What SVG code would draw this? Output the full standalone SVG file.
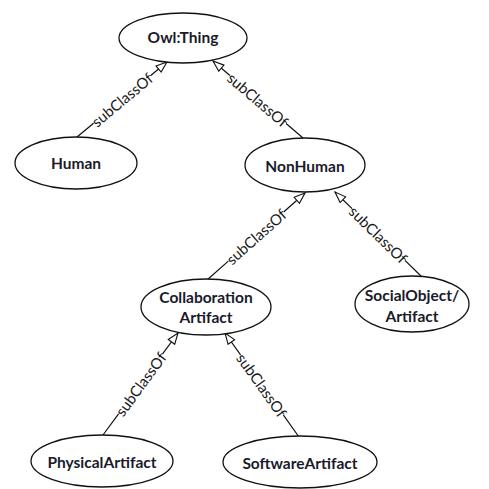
<svg xmlns="http://www.w3.org/2000/svg" width="489" height="489" viewBox="0 0 489 489">
  <defs>
    <style>
      .node ellipse { fill: #ffffff; stroke: #111111; stroke-width: 1.3; }
      .node text { font-family: "Lato", "Liberation Sans", sans-serif; font-weight: bold; font-size: 15.5px; fill: #1a1a2a; text-anchor: middle; dominant-baseline: central; }
      .edge line { stroke: #111111; stroke-width: 1.2; marker-end: url(#hollow); }
      .edge text { font-family: "Lato", "Liberation Sans", sans-serif; font-size: 15px; fill: #1a1a1a; text-anchor: middle; dominant-baseline: central; }
    </style>
    <marker id="hollow" markerUnits="userSpaceOnUse" markerWidth="14" markerHeight="12" refX="12" refY="5" orient="auto">
      <path d="M1,1 L12,5 L1,9 Z" fill="#ffffff" stroke="#111111" stroke-width="1.1"/>
    </marker>
  </defs>
  <rect width="489" height="489" fill="#ffffff"/>

  <!-- each line leaves a gap at its middle for the rotated label -->
  <g id="connectors">
    <g class="edge" id="e-human">
      <line x1="77" y1="137" x2="167" y2="62" stroke-dasharray="21.6 74 200"/>
      <text transform="translate(122,99.5) rotate(-39.8)">subClassOf</text>
    </g>
    <g class="edge" id="e-nonhuman">
      <line x1="303" y1="138" x2="213" y2="61" stroke-dasharray="22.2 74 200"/>
      <text transform="translate(258,99.5) rotate(40.55)">subClassOf</text>
    </g>
    <g class="edge" id="e-collab">
      <line x1="207" y1="280" x2="305" y2="193" stroke-dasharray="28.5 74 200"/>
      <text transform="translate(256,236.5) rotate(-41.6)">subClassOf</text>
    </g>
    <g class="edge" id="e-social">
      <line x1="422" y1="277" x2="335" y2="192" stroke-dasharray="23.8 74 200"/>
      <text transform="translate(378.5,234.5) rotate(44.3)">subClassOf</text>
    </g>
    <g class="edge" id="e-physical">
      <line x1="103" y1="435" x2="178" y2="333" stroke-dasharray="26.3 74 200"/>
      <text transform="translate(140.5,384) rotate(-53.7)">subClassOf</text>
    </g>
    <g class="edge" id="e-software">
      <line x1="299" y1="437" x2="225" y2="333" stroke-dasharray="26.8 74 200"/>
      <text transform="translate(262,385) rotate(54.6)">subClassOf</text>
    </g>
  </g>

  <g class="node" id="owl-thing">
    <ellipse cx="183" cy="38" rx="64" ry="25"/>
    <text x="183" y="37">Owl:Thing</text>
  </g>
  <g class="node" id="human">
    <ellipse cx="76" cy="163" rx="61" ry="26"/>
    <text x="76" y="163">Human</text>
  </g>
  <g class="node" id="nonhuman">
    <ellipse cx="305" cy="165" rx="60" ry="27"/>
    <text x="305" y="166">NonHuman</text>
  </g>
  <g class="node" id="collaboration-artifact">
    <ellipse cx="206" cy="307" rx="65" ry="28"/>
    <text x="206" y="297">Collaboration</text>
    <text x="206" y="317">Artifact</text>
  </g>
  <g class="node" id="socialobject-artifact">
    <ellipse cx="412" cy="304" rx="57" ry="28"/>
    <text x="412" y="295">SocialObject/</text>
    <text x="412" y="316">Artifact</text>
  </g>
  <g class="node" id="physical-artifact">
    <ellipse cx="102" cy="461" rx="71" ry="26"/>
    <text x="102" y="462">PhysicalArtifact</text>
  </g>
  <g class="node" id="software-artifact">
    <ellipse cx="300" cy="462" rx="77" ry="26"/>
    <text x="300" y="463">SoftwareArtifact</text>
  </g>
</svg>
